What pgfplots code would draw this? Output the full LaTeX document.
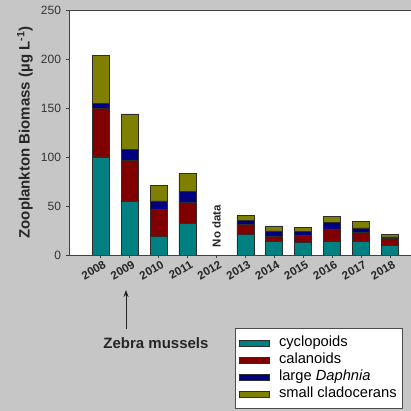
\documentclass[border=0pt]{standalone}
\usepackage{pgfplots}
\pgfplotsset{compat=1.18}
\usetikzlibrary{arrows.meta}
\usepackage{fontspec}
\setmainfont{Liberation Sans}
\definecolor{bg}{RGB}{198,198,198}
\definecolor{cteal}{RGB}{0,128,128}
\definecolor{cred}{RGB}{128,0,0}
\definecolor{cblue}{RGB}{0,0,128}
\definecolor{colive}{RGB}{128,128,0}
\definecolor{edge}{RGB}{45,45,45}
\pgfplotsset{mylegend/.style={legend image code/.code={\draw[##1, draw=edge, line width=0.6pt] (0pt,-3pt) rectangle (30pt,3pt); \path (37pt,0pt);}}}
\begin{document}
\begin{tikzpicture}
\fill[bg] (0,0) rectangle (411pt,411pt);
\clip (0,0) rectangle (411pt,411pt);
\begin{axis}[
 at={(69pt,156pt)}, anchor=south west,
 scale only axis, width=352.7pt, height=245pt,
 xmin=-1.096, xmax=11.096, ymin=0, ymax=250,
 ybar stacked, bar width=17pt,
 axis background/.style={fill=white},
 axis line style={draw=black!75, line width=0.9pt},
 tick align=outside, xtick pos=left, ytick pos=left,
 major tick length=3.5pt,
 tick style={draw=black!75, line width=0.7pt},
 xtick={0,1,2,3,4,5,6,7,8,9,10},
 xticklabels={2008,2009,2010,2011,2012,2013,2014,2015,2016,2017,2018},
 ytick={0,50,100,150,200,250},
 /pgf/number format/assume math mode=true,
 yticklabel style={font=\fontsize{12}{12}\selectfont, text=black!80, xshift=-1pt},
 xticklabel style={font=\bfseries\fontsize{11.5}{11.5}\selectfont, text=black!85, rotate=30, anchor=north east, inner sep=1pt, xshift=2pt, yshift=-1.5pt},
 ylabel={Zooplankton Biomass (µg L\textsuperscript{-1})},
 ylabel style={font=\bfseries\fontsize{15}{15}\selectfont, text=black!85, at={(axis description cs:-0.1248,0.5)}, anchor=center},
 legend cell align=left,
 legend style={at={(axis description cs:0.4707,-0.298)}, anchor=north west, draw=black!70, line width=0.8pt, fill=white,
   font=\fontsize{14.7}{14.7}\selectfont, inner xsep=4pt, inner ysep=6pt,
   nodes={inner sep=2pt, text height=10.5pt, text depth=2.5pt}, row sep=0pt},
]
\addplot[fill=cteal, draw=edge, line width=0.6pt, mylegend] coordinates {
 (0,100) (1,55) (2,18.7) (3,32.3) (5,20.7) (6,13.6) (7,12.9) (8,13.6) (9,13.6) (10,10.2)};
\addplot[fill=cred, draw=edge, line width=0.6pt, mylegend] coordinates {
 (0,50) (1,42) (2,28.2) (3,21.8) (5,10.3) (6,5.8) (7,7.1) (8,12.9) (9,9.2) (10,6.5)};
\addplot[fill=cblue, draw=edge, line width=0.6pt, mylegend] coordinates {
 (0,4.5) (1,11) (2,8.2) (3,11.2) (5,4) (6,5.1) (7,3.8) (8,6.8) (9,4.8) (10,1.7)};
\addplot[fill=colive, draw=edge, line width=0.6pt, mylegend] coordinates {
 (0,49.5) (1,36) (2,16) (3,17.7) (5,5.1) (6,5.1) (7,4.1) (8,5.8) (9,6.8) (10,2.3)};
\legend{cyclopoids, calanoids, large \textit{Daphnia}, small cladocerans\hspace{7pt}}
\node[rotate=90, font=\bfseries\fontsize{11.5}{11.5}\selectfont, text=black!85] at (axis cs:4,29.6) {No data};
\end{axis}
\draw[-{Stealth[length=7pt,width=5pt]}, line width=0.9pt, draw=black!85] (126pt,82pt) -- (126pt,121pt);
\node[font=\bfseries\fontsize{15}{15}\selectfont, text=black!85] at (156pt,68.3pt) {Zebra mussels};
\end{tikzpicture}
\end{document}
